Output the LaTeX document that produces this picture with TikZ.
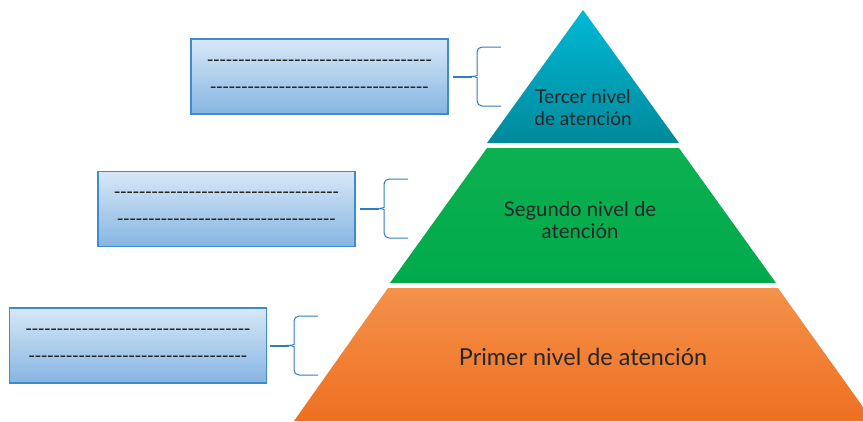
\documentclass[tikz,border=0pt]{standalone}
\usepackage{fontspec}
\setmainfont{Lato}
\newfontfamily\dashfont{Carlito}
\usetikzlibrary{positioning}
\definecolor{tealTop}{HTML}{00B9D6}
\definecolor{tealBottom}{HTML}{00899B}
\definecolor{greenTop}{HTML}{0CB050}
\definecolor{greenBottom}{HTML}{00AA4B}
\definecolor{orangeTop}{HTML}{F4914A}
\definecolor{orangeBottom}{HTML}{EE7022}
\definecolor{boxTop}{HTML}{D7E8F7}
\definecolor{boxBottom}{HTML}{86B5E2}
\definecolor{boxLine}{HTML}{3D8CCC}
\definecolor{braceBlue}{HTML}{2F7CC3}
\definecolor{labelGray}{HTML}{262626}

\begin{document}
\begin{tikzpicture}[x=1pt, y=-1pt,
            box/.style={draw=boxLine, line width=1.1pt, top color=boxTop, bottom color=boxBottom, minimum width=257pt, minimum height=75pt, inner sep=0pt, align=center, text=labelGray, font=\dashfont\fontsize{20.4}{27}\selectfont},
            brace/.style={draw=braceBlue, line width=1pt, rounded corners=5pt},
            bracetip/.style={draw=braceBlue, line width=2pt},
            level/.style={align=center, text=labelGray}]

            \useasboundingbox (0,0) rectangle (863,421);
            \clip (0,0) rectangle (863,421);

            % piramide
            \shade[top color=tealTop, bottom color=tealBottom] (583,10) -- (679,143) -- (487,143) -- cycle;
            \shade[top color=greenTop, bottom color=greenBottom] (487,148) -- (679,148) -- (776,283) -- (390,283) -- cycle;
            \shade[top color=orangeTop, bottom color=orangeBottom] (388,288) -- (778,288) -- (873,421) -- (294,421) -- cycle;

            \node[level, font=\fontsize{19}{22}\selectfont] (tercer) at (583,108) {Tercer nivel\\de atención};
            \node[level, font=\fontsize{20.3}{21.5}\selectfont] (segundo) at (580,220) {Segundo nivel de\\atención};
            \node[level, font=\fontsize{23.4}{26}\selectfont] (primer) at (583,357) {Primer nivel de atención};

            % cuadros
            \node[box] (cuadro3) at (319.5,76.5) {------------------------------------\\-----------------------------------};
            \node[box] (cuadro2) at (226.5,209) {------------------------------------\\-----------------------------------};
            \node[box] (cuadro1) at (138,345.5) {------------------------------------\\-----------------------------------};

            % llaves
            \coordinate (llave3) at (453,76.5);
            \coordinate (llave2) at (360,208.5);
            \coordinate (llave1) at (270,345.5);

            \foreach \n in {1,2,3} {
                \draw[brace, shift={(llave\n)}] (48,-29.5) -- (24,-29.5) -- (24,-6) .. controls (24,-1) and (22,0) .. (16,0);
                \draw[brace, shift={(llave\n)}] (48,29.5) -- (24,29.5) -- (24,6) .. controls (24,1) and (22,0) .. (16,0);
                \draw[bracetip] (llave\n) -- ++(19,0);
            }
        \end{tikzpicture}
\end{document}
